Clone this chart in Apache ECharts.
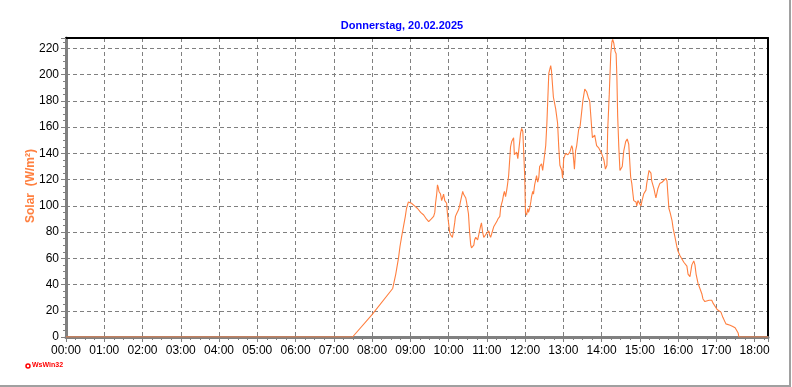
<!DOCTYPE html>
<html>
<head>
<meta charset="utf-8">
<script src="https://cdn.jsdelivr.net/npm/echarts@6/dist/echarts.min.js"></script>
<style>
html,body{margin:0;padding:0;background:#fff;}
#c{width:792px;height:387px;}
</style>
</head>
<body>
<div id="c"></div>
<script>
const titleText = 'Donnerstag, 20.02.2025';
const yAxisName = 'Solar  (W/m²)';
const hourLabels = ['00:00','01:00','02:00','03:00','04:00','05:00','06:00','07:00','08:00','09:00','10:00','11:00','12:00','13:00','14:00','15:00','16:00','17:00','18:00'];
// time in decimal hours
const times = [0,7.49,8.0,8.54,8.62,8.69,8.73,8.77,8.82,8.87,8.90,8.95,8.98,9.03,9.11,9.19,9.27,9.35,9.42,9.48,9.53,9.55,9.61,9.64,9.66,9.69,9.71,9.73,9.75,9.79,9.82,9.84,9.87,9.90,9.95,9.97,10.0,10.03,10.05,10.08,10.10,10.13,10.16,10.18,10.21,10.24,10.26,10.29,10.31,10.34,10.37,10.39,10.42,10.45,10.47,10.50,10.52,10.55,10.58,10.60,10.63,10.66,10.68,10.71,10.73,10.76,10.79,10.81,10.84,10.86,10.89,10.92,10.94,10.97,11.0,11.02,11.05,11.07,11.10,11.13,11.15,11.18,11.20,11.26,11.29,11.34,11.36,11.39,11.41,11.44,11.46,11.49,11.52,11.54,11.57,11.60,11.62,11.65,11.67,11.70,11.72,11.75,11.78,11.81,11.83,11.86,11.88,11.91,11.94,11.96,11.99,12.01,12.04,12.07,12.09,12.12,12.15,12.17,12.20,12.22,12.25,12.28,12.30,12.33,12.36,12.38,12.43,12.46,12.51,12.54,12.57,12.62,12.67,12.69,12.74,12.80,12.85,12.88,12.91,12.96,12.98,13.01,13.06,13.12,13.17,13.22,13.24,13.27,13.29,13.32,13.35,13.40,13.44,13.48,13.51,13.56,13.59,13.61,13.66,13.69,13.72,13.76,13.80,13.82,13.87,13.93,13.98,14.0,14.06,14.10,14.14,14.16,14.20,14.24,14.27,14.29,14.32,14.35,14.38,14.40,14.42,14.45,14.48,14.51,14.54,14.58,14.63,14.67,14.71,14.76,14.79,14.82,14.84,14.90,14.92,14.95,15.0,15.03,15.05,15.10,15.16,15.18,15.21,15.24,15.29,15.31,15.37,15.39,15.42,15.47,15.52,15.58,15.60,15.63,15.68,15.71,15.73,15.76,15.79,15.84,15.87,15.92,15.96,15.99,16.05,16.10,16.15,16.20,16.23,16.26,16.31,16.34,16.36,16.41,16.44,16.47,16.52,16.57,16.62,16.65,16.70,16.75,16.81,16.88,16.91,16.96,17.02,17.07,17.12,17.17,17.25,17.36,17.43,17.49,17.57,17.59,18.35];
const solar = [0,0,17,37,48,60,69,76,84,92,98,103,104,102,100,98,95,93,90,88,88,90,92,95,102,109,116,114,111,109,104,104,109,104,102,94,87,80,78,77,76,81,87,92,94,95,97,100,103,107,111,109,108,106,103,102,94,80,70,68,68,70,74,76,76,74,78,79,85,87,80,76,76,78,77,79,81,78,76,76,81,84,84,88,90,92,98,102,104,109,111,107,112,116,123,136,145,149,149,152,139,140,141,136,141,149,155,159,157,144,123,95,93,98,95,98,103,107,111,109,116,120,123,118,122,130,132,127,127,146,163,201,207,203,183,174,163,145,131,127,121,136,140,139,141,146,144,135,128,142,146,158,161,161,180,189,188,187,182,180,168,152,152,154,146,144,144,140,135,128,131,158,185,216,225,227,224,218,216,198,169,145,127,126,130,142,149,151,147,122,117,109,104,103,100,104,103,100,103,109,112,117,122,127,125,119,113,110,106,113,117,118,117,119,121,119,110,98,95,89,83,76,70,66,62,61,57,56,54,48,46,47,55,58,55,48,41,37,33,29,27,27,28,28,26,25,21,20,19,15,10,9,8,7,3,0,0];

const xMax = 18.35, yMax = 228;
const chart = echarts.init(document.getElementById('c'));
const font = '"Liberation Sans", Arial, sans-serif';
chart.setOption({
  animation: false,
  backgroundColor: '#fff',
  title: {
    text: titleText, left: 397, top: 15, textAlign: 'center',
    textStyle: {color: '#0000FF', fontSize: 11, fontWeight: 'bold', fontFamily: font}
  },
  grid: {left: 66, right: 24, top: 38, bottom: 50, containLabel: false},
  xAxis: [{
    type: 'value', min: 0, max: xMax, interval: 1,
    axisLine: {show: true, lineStyle: {color: '#808080', width: 3}},
    axisTick: {show: true, length: 5, lineStyle: {color: '#808080'}},
    minorTick: {show: true, splitNumber: 4, length: 3, lineStyle: {color: '#808080'}},
    axisLabel: {showMaxLabel: false, margin: 8, color: '#000', fontSize: 12, fontFamily: font,
      formatter: v => hourLabels[Math.round(v)] || ''},
    splitLine: {show: true, showMinLine: false, showMaxLine: false, lineStyle: {color: '#808080', type: [4, 3], width: 1}}
  }, {
    type: 'value', position: 'top', min: 0, max: xMax,
    axisLine: {show: true, onZero: false, lineStyle: {color: '#000', width: 2}},
    axisTick: {show: false}, axisLabel: {show: false}, splitLine: {show: false}
  }],
  yAxis: [{
    type: 'value', min: 0, max: yMax, interval: 20,
    axisLine: {show: true, lineStyle: {color: '#808080', width: 3}},
    axisTick: {show: true, length: 5, lineStyle: {color: '#808080'}},
    minorTick: {show: true, splitNumber: 4, length: 3, lineStyle: {color: '#808080'}},
    axisLabel: {showMaxLabel: false, margin: 7, color: '#000', fontSize: 12, fontFamily: font},
    splitLine: {show: true, showMinLine: false, showMaxLine: false, lineStyle: {color: '#808080', type: [4, 3], width: 1}}
  }, {
    type: 'value', position: 'right', min: 0, max: yMax,
    axisLine: {show: true, onZero: false, lineStyle: {color: '#000', width: 2}},
    axisTick: {show: false}, axisLabel: {show: false}, splitLine: {show: false}
  }],
  graphic: [
    {type: 'text', x: 31, y: 186, rotation: Math.PI / 2,
      style: {text: yAxisName, fill: '#FF8040', font: 'bold 12px ' + font, align: 'center', verticalAlign: 'middle'}},
    {type: 'circle', shape: {cx: 28, cy: 366, r: 2}, style: {fill: '#fff', stroke: '#FF0000', lineWidth: 1.5}},
    {type: 'text', left: 32, top: 362, style: {text: 'WsWin32', fill: '#FF0000', font: 'bold 7px ' + font}},
    {type: 'polyline', shape: {points: [[790, 0], [790, 386], [0, 386]]}, style: {stroke: '#A0A0A0', lineWidth: 2, fill: null}}
  ],
  series: [{
    type: 'line', xAxisIndex: 0, yAxisIndex: 0,
    data: times.map((t, i) => [t, solar[i]]),
    showSymbol: false, symbol: 'none',
    lineStyle: {color: '#FF7F3F', width: 1.1},
    z: 5
  }]
});
</script>
</body>
</html>
